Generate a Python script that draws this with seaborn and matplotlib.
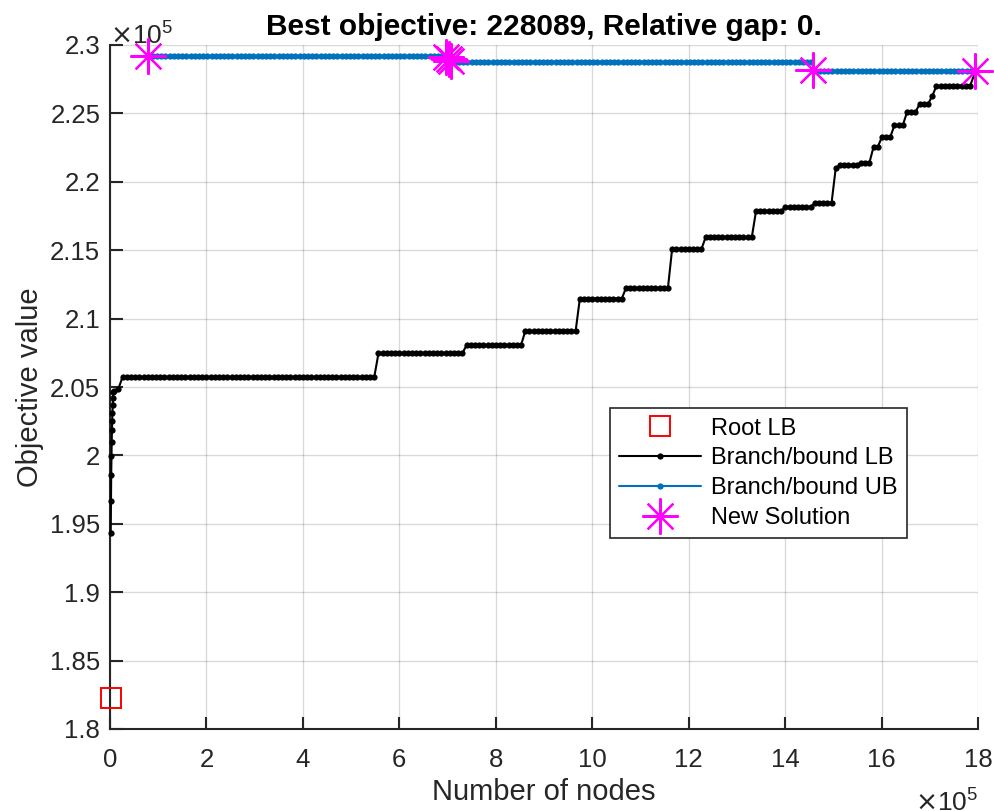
import numpy as np
import pandas as pd
import matplotlib
matplotlib.use("Agg")
import matplotlib.pyplot as plt
import seaborn as sns
from matplotlib.ticker import FixedLocator, FixedFormatter

# ---------------- data (objective values in units of 1e5, nodes in units of 1e5) ----------------
root_lb_node = [0.02]
root_lb_val = [1.8227]

# early lower-bound points (explicit)
lb_early_nodes = [0.015, 0.020, 0.025, 0.030, 0.035, 0.040, 0.045, 0.050, 0.055, 0.060, 0.070, 0.085, 0.17]
lb_early_vals = [1.9433, 1.9667, 1.9857, 1.9996, 2.0095, 2.0186, 2.0252, 2.0310, 2.0368, 2.0420, 2.0463, 2.0471, 2.0483]

# lower-bound staircase: level start node and level value
lb_step_start = [0.26, 5.53, 7.35, 8.55, 9.66, 10.66, 11.63, 12.34, 13.34, 13.96, 14.53,
                 15.01, 15.05, 15.56, 15.76, 15.96, 16.25, 16.50, 16.77, 16.97, 17.07, 17.88]
lb_step_level = [2.0573, 2.0745, 2.0807, 2.0909, 2.1146, 2.1224, 2.1509, 2.1596, 2.1787, 2.1816, 2.1845,
                 2.2101, 2.2120, 2.2137, 2.2254, 2.2327, 2.2415, 2.2510, 2.2569, 2.2627, 2.2700, 2.2766]
lb_final_node = [17.95]
lb_final_val = [2.2809]

# upper-bound staircase
ub_step_start = [0.80, 6.99, 14.59]
ub_step_level = [2.2920, 2.2875, 2.2812]
ub_end_node = 18.0

# new solutions
sol_nodes = [0.79, 6.96, 7.02, 7.08, 14.58, 17.93]
sol_vals = [2.2920, 2.2912, 2.2898, 2.2882, 2.2820, 2.2809]

sample_step = 0.087  # node sampling interval of the plotted bounds (1e5 nodes)

x_ticks = [0, 2, 4, 6, 8, 10, 12, 14, 16, 18]
x_labels = ["0", "2", "4", "6", "8", "10", "12", "14", "16", "18"]
y_ticks = [1.8, 1.85, 1.9, 1.95, 2.0, 2.05, 2.1, 2.15, 2.2, 2.25, 2.3]
y_labels = ["1.8", "1.85", "1.9", "1.95", "2", "2.05", "2.1", "2.15", "2.2", "2.25", "2.3"]

title = "Best objective: 228089, Relative gap: 0."

# ---------------- build sampled series ----------------
def staircase(starts, levels, end):
    xs = np.arange(starts[0], end + 1e-9, sample_step)
    idx = np.searchsorted(np.array(starts), xs, side="right") - 1
    return xs, np.array(levels)[idx]

lbx, lby = staircase(lb_step_start, lb_step_level, 17.88)
lb_df = pd.DataFrame({
    "node": np.concatenate([lb_early_nodes, lbx, lb_final_node]),
    "val": np.concatenate([lb_early_vals, lby, lb_final_val]),
})
ubx, uby = staircase(ub_step_start, ub_step_level, ub_end_node)
ub_df = pd.DataFrame({"node": ubx, "val": uby})
sol_df = pd.DataFrame({"node": sol_nodes, "val": sol_vals})
root_df = pd.DataFrame({"node": root_lb_node, "val": root_lb_val})

# ---------------- plot ----------------
sns.set_style("white")
plt.rcParams["font.family"] = ["Liberation Sans", "DejaVu Sans"]

fig = plt.figure(figsize=(9.95, 8.11), dpi=100)
ax = fig.add_axes([110 / 995, 1 - 729 / 811, 868 / 995, 684 / 811])

matlab_blue = "#0072BD"
sns.lineplot(data=root_df, x="node", y="val", ax=ax, linestyle="none", marker="s",
             markersize=15, markerfacecolor="none", markeredgecolor="#FF0000",
             markeredgewidth=1.4, label="Root LB", zorder=4, clip_on=False)
sns.lineplot(data=lb_df, x="node", y="val", ax=ax, color="black", linewidth=1.5,
             marker="o", markersize=4.5, markeredgewidth=0, sort=False, estimator=None,
             label="Branch/bound LB", zorder=3, clip_on=False)
sns.lineplot(data=ub_df, x="node", y="val", ax=ax, color=matlab_blue, linewidth=1.5,
             marker="o", markersize=4.5, markeredgewidth=0, sort=False, estimator=None,
             label="Branch/bound UB", zorder=3, clip_on=False)
sns.lineplot(data=sol_df, x="node", y="val", ax=ax, linestyle="none", marker=(8, 2, 0),
             markersize=26, markeredgewidth=1.6, color="#FF00FF", markeredgecolor="#FF00FF",
             sort=False, estimator=None, label="New Solution", zorder=5, clip_on=False)

ax.set_xlim(0, 18)
ax.set_ylim(1.8, 2.3)
ax.xaxis.set_major_locator(FixedLocator(x_ticks))
ax.xaxis.set_major_formatter(FixedFormatter(x_labels))
ax.yaxis.set_major_locator(FixedLocator(y_ticks))
ax.yaxis.set_major_formatter(FixedFormatter(y_labels))

ax.grid(True, color="#000000", alpha=0.15, linewidth=1.0)
ax.set_axisbelow(True)
for s in ["top", "right"]:
    ax.spines[s].set_visible(False)
for s in ["left", "bottom"]:
    ax.spines[s].set_color("#262626")
    ax.spines[s].set_linewidth(1.5)
    ax.spines[s].set_zorder(2.5)
ax.tick_params(axis="both", direction="in", length=9, width=1.5, color="#262626",
               labelsize=18.5, labelcolor="#262626", left=True, bottom=True)
ax.tick_params(axis="y", pad=7)
ax.tick_params(axis="x", pad=14)

ax.set_xlabel("Number of nodes", fontsize=21, color="#262626", labelpad=4)
ax.set_ylabel("Objective value", fontsize=21, color="#262626", labelpad=4)
ax.set_title(title, fontsize=21.5, fontweight="bold", color="black", pad=7)

# exponent labels
ax.text(0.0, 0.994, r"$\times\mathregular{10^{5}}$", transform=ax.transAxes, fontsize=19,
        color="#262626", ha="left", va="bottom")
ax.text(1.0, -0.089, r"$\times\mathregular{10^{5}}$", transform=ax.transAxes, fontsize=19,
        color="#262626", ha="right", va="top")

leg = ax.legend(loc="upper left", bbox_to_anchor=(0.576, 0.469), fontsize=17,
                frameon=True, fancybox=False, edgecolor="#262626", framealpha=1,
                handlelength=3.45, labelspacing=0.33, borderpad=0.4, handletextpad=0.45,
                borderaxespad=0)
leg.get_frame().set_linewidth(1.2)
for t in leg.get_texts():
    t.set_color("black")

fig.savefig("out.png", dpi=100)
